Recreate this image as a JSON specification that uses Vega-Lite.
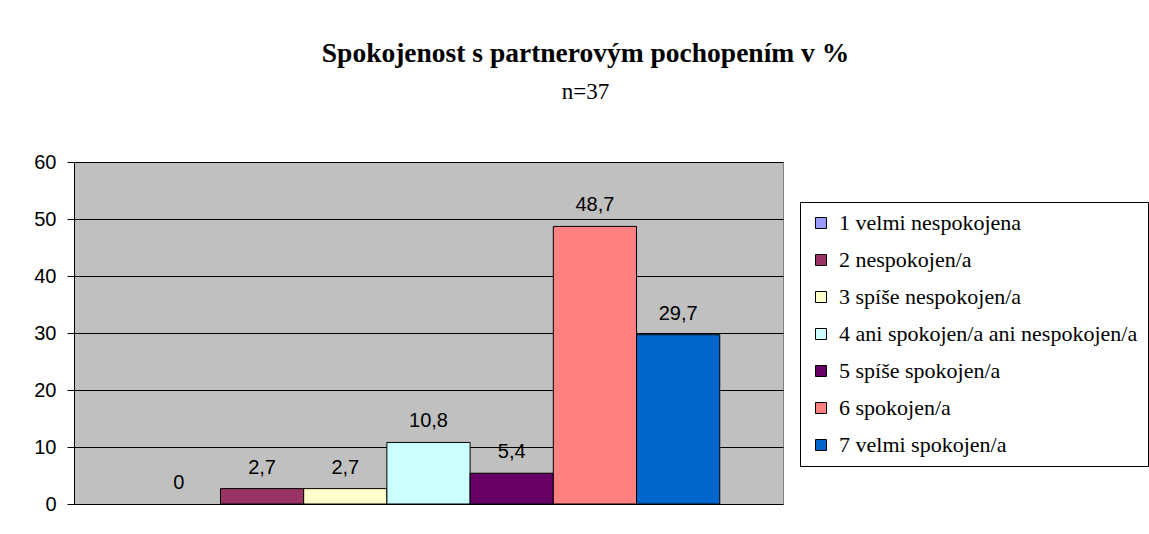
{
  "$schema": "https://vega.github.io/schema/vega-lite/v6.json",
  "autosize": {"type": "none"},
  "width": 709,
  "height": 342,
  "padding": {"left": 74, "top": 162, "right": 366, "bottom": 30},
  "background": "white",
  "title": {
    "text": "Spokojenost s partnerovým pochopením v %",
    "subtitle": "n=37",
    "anchor": "middle",
    "frame": "group",
    "dx": 157,
    "offset": 48,
    "font": "Liberation Serif",
    "fontSize": 27.5,
    "fontWeight": "bold",
    "color": "black",
    "subtitleFont": "Liberation Serif",
    "subtitleFontSize": 23,
    "subtitleColor": "black",
    "subtitlePadding": 14
  },
  "config": {
    "font": "Liberation Serif",
    "locale": {"number": {"decimal": ",", "thousands": " ", "grouping": [3], "currency": ["", " Kč"]}},
    "view": {"fill": "#C0C0C0", "stroke": "#808080", "strokeWidth": 1},
    "legend": {"labelFont": "Liberation Serif", "labelFontSize": 22, "labelColor": "black"},
    "axis": {"labelFont": "Liberation Sans"},
    "text": {"font": "Liberation Sans"}
  },
  "data": {
    "values": [
      {"kategorie": "1 velmi nespokojena", "poradi": 1, "procenta": 0},
      {"kategorie": "2 nespokojen/a", "poradi": 2, "procenta": 2.7},
      {"kategorie": "3 spíše nespokojen/a", "poradi": 3, "procenta": 2.7},
      {"kategorie": "4 ani spokojen/a ani nespokojen/a", "poradi": 4, "procenta": 10.8},
      {"kategorie": "5 spíše spokojen/a", "poradi": 5, "procenta": 5.4},
      {"kategorie": "6 spokojen/a", "poradi": 6, "procenta": 48.7},
      {"kategorie": "7 velmi spokojen/a", "poradi": 7, "procenta": 29.7}
    ]
  },
  "encoding": {
    "x": {
      "field": "kategorie",
      "type": "nominal",
      "sort": {"field": "poradi"},
      "axis": null,
      "scale": {"paddingInner": 0, "paddingOuter": 0.76}
    },
    "y": {
      "field": "procenta",
      "type": "quantitative",
      "scale": {"domain": [0, 60], "nice": false},
      "axis": {
        "title": null,
        "values": [0, 10, 20, 30, 40, 50, 60],
        "labelFont": "Liberation Sans",
        "labelFontSize": 20,
        "labelColor": "black",
        "labelPadding": 11,
        "tickSize": 7,
        "tickColor": "black",
        "domainColor": "black",
        "gridColor": "black",
        "gridOpacity": 1,
        "grid": true
      }
    }
  },
  "layer": [
    {
      "mark": {"type": "bar", "stroke": "black", "strokeWidth": 1},
      "encoding": {
        "strokeOpacity": {"condition": {"test": "datum.procenta > 0", "value": 1}, "value": 0},
        "fill": {
          "field": "kategorie",
          "type": "nominal",
          "sort": {"field": "poradi"},
          "scale": {
            "domain": ["1 velmi nespokojena", "2 nespokojen/a", "3 spíše nespokojen/a", "4 ani spokojen/a ani nespokojen/a", "5 spíše spokojen/a", "6 spokojen/a", "7 velmi spokojen/a"],
            "range": ["#9999FF", "#993366", "#FFFFCC", "#CCFFFF", "#660066", "#FF8080", "#0066CC"]
          },
          "legend": {
            "title": null,
            "orient": "none",
            "legendX": 726,
            "legendY": 40,
            "strokeColor": "black",
            "fillColor": "white",
            "padding": 10,
            "symbolType": "square",
            "symbolSize": 121,
            "symbolStrokeColor": "black",
            "symbolStrokeWidth": 1,
            "symbolOpacity": 1,
            "labelFont": "Liberation Serif",
            "labelFontSize": 22,
            "labelColor": "black",
            "labelLimit": 600,
            "labelOffset": 7,
            "rowPadding": 15
          }
        }
      }
    },
    {
      "mark": {"type": "text", "dy": -15, "font": "Liberation Sans", "fontSize": 20, "color": "black", "baseline": "alphabetic"},
      "encoding": {
        "text": {"field": "procenta", "type": "quantitative", "format": ".1~f"}
      }
    }
  ]
}
